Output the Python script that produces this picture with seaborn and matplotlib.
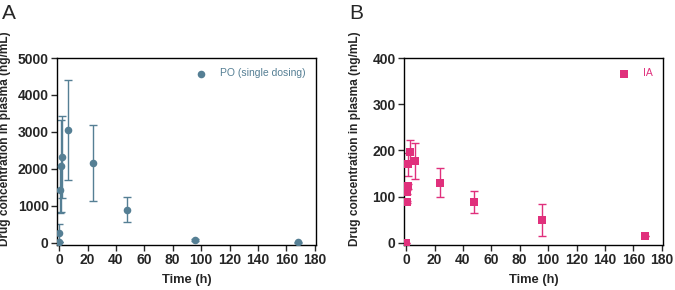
import numpy as np
import pandas as pd
import seaborn as sns
import matplotlib.pyplot as plt

# PO (single dosing) - panel A
po_time = [0, 0.25, 0.5, 1, 2, 6, 24, 48, 96, 168]
po_conc = [25, 270, 1420, 2080, 2330, 3050, 2170, 900, 80, 10]
po_err = [10, 250, 620, 1250, 1110, 1350, 1030, 340, 30, 5]

# IA - panel B
ia_time = [0, 0.5, 0.75, 1, 1.5, 3, 6, 24, 48, 96, 168]
ia_conc = [0, 88, 110, 122, 170, 197, 178, 130, 89, 49, 15]
ia_err = [0, 3, 5, 5, 25, 25, 39, 31, 24, 34, 0]

sns.set_style("white")
plt.rcParams['font.family'] = ['Liberation Sans', 'DejaVu Sans']

po_col = '#557f94'
ia_col = '#e0307c'

fig = plt.figure(figsize=(6.75, 2.9), dpi=100)
axA = fig.add_axes([0.0844, 0.155, 0.384, 0.645])
axB = fig.add_axes([0.5985, 0.155, 0.384, 0.645])

def panel(ax, t, c, e, col, marker, label, ymax, ystep, ylow, letter, ylx):
    ax.errorbar(t, c, yerr=e, fmt='none', ecolor=col, elinewidth=1.0,
                capsize=3, capthick=1.0, zorder=2)
    df = pd.DataFrame({'t': t, 'c': c})
    sns.scatterplot(data=df, x='t', y='c', ax=ax, color=col, marker=marker,
                    s=30, edgecolor=col, linewidth=0, label=label, zorder=3)
    ax.set_xlim(-1.5, 181)
    ax.set_ylim(ylow, ymax)
    ax.set_xticks(np.arange(0, 181, 20))
    ax.set_yticks(np.arange(0, ymax + 1, ystep))
    ax.tick_params(axis='both', which='major', direction='out', length=4,
                   width=1, labelsize=10, pad=2, bottom=True, left=True)
    for lab in ax.get_xticklabels() + ax.get_yticklabels():
        lab.set_fontweight('bold')
    for sp in ax.spines.values():
        sp.set_color('black')
        sp.set_linewidth(1.0)
    ax.set_xlabel('Time (h)', fontsize=9.3, fontweight='bold', labelpad=5)
    ax.set_ylabel('Drug concentration in plasma (ng/mL)', fontsize=8.6,
                  fontweight='bold')
    ax.yaxis.set_label_coords(ylx, 0.57)
    leg = ax.legend(loc='upper right', frameon=False, fontsize=7.5,
                    handletextpad=0.8, borderaxespad=0.6, markerscale=1.0)
    for txt in leg.get_texts():
        txt.set_color(col)
    ax.text(-0.213, 1.29, letter, transform=ax.transAxes, fontsize=15,
            va='top', ha='left')

panel(axA, po_time, po_conc, po_err, po_col, 'o', 'PO (single dosing)',
      5000, 1000, -60, 'A', -0.178)
panel(axB, ia_time, ia_conc, ia_err, ia_col, 's', 'IA',
      400, 100, -5, 'B', -0.166)

fig.savefig('out.png', dpi=100)
